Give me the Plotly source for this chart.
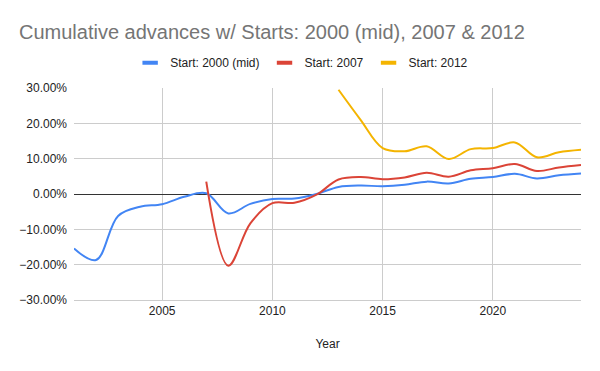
import plotly.graph_objects as go

years_blue = list(range(2001, 2025))
blue = [-15.4, -18.7, -6.2, -3.6, -2.9, -0.8, 0.2, -5.5, -2.8, -1.4, -1.3, 0.0,
        2.0, 2.4, 2.2, 2.6, 3.5, 3.0, 4.3, 4.8, 5.7, 4.4, 5.3, 5.8]

years_red = list(range(2007, 2025))
red = [3.5, -20.3, -8.3, -2.6, -2.5, -0.2, 4.1, 4.8, 4.2, 4.7, 6.0, 4.9, 6.7,
       7.3, 8.5, 6.5, 7.5, 8.2]

years_yellow = list(range(2013, 2025))
yellow = [29.5, 21.0, 13.0, 12.1, 13.5, 9.9, 12.7, 13.0, 14.6, 10.4, 11.8, 12.5]

names = ["Start: 2000 (mid)", "Start: 2007", "Start: 2012"]
colors = ["#4285F4", "#DB4437", "#F4B400"]

font_family = "Arial, Liberation Sans, sans-serif"

fig = go.Figure()
series = [(years_blue, blue), (years_red, red), (years_yellow, yellow)]
for (xs, ys), name, color in zip(series, names, colors):
    fig.add_trace(go.Scatter(
        x=xs, y=[v / 100 for v in ys], name=name, mode="lines",
        line=dict(color=color, width=2, shape="spline", smoothing=1.0),
        showlegend=False, legendgroup=name,
    ))
# legend entries (short thick bars like the reference)
for name, color in zip(names, colors):
    fig.add_trace(go.Scatter(
        x=[None], y=[None], name=name, mode="markers", legendgroup=name,
        marker=dict(symbol="line-ew", size=11, color=color,
                    line=dict(color=color, width=4)),
    ))

# body has an 8px default margin in the page, so the figure is offset by 8px
fig.update_layout(
    width=584, height=355,
    margin=dict(l=63, r=11, t=80, b=63),
    paper_bgcolor="white", plot_bgcolor="white",
    font=dict(family=font_family, size=12, color="#333333"),
    title=dict(text="Cumulative advances w/ Starts: 2000 (mid), 2007 & 2012",
               x=0.0188, xanchor="left", y=0.933, yanchor="middle",
               font=dict(family=font_family, size=20, color="#757575")),
    legend=dict(orientation="h", x=0.449, xanchor="center", y=1.119, yanchor="middle",
                font=dict(size=12, color="#222222"),
                bgcolor="rgba(0,0,0,0)", tracegroupgap=0),
    showlegend=True,
)
fig.update_xaxes(range=[2001, 2024], tickvals=[2005, 2010, 2015, 2020],
                 showgrid=True, gridcolor="#cccccc", gridwidth=1,
                 zeroline=False, showline=True, linecolor="#cccccc",
                 ticks="", tickfont=dict(color="#222222"),
                 title=dict(text="Year", standoff=22,
                            font=dict(size=12, color="#222222")))
fig.update_yaxes(range=[-0.3, 0.3], dtick=0.1, tickformat=".2%",
                 showgrid=True, gridcolor="#cccccc", gridwidth=1,
                 zeroline=True, zerolinecolor="#333333", zerolinewidth=1,
                 ticks="", ticklabelstandoff=6, tickfont=dict(color="#222222"))

fig.write_html("out.html")
